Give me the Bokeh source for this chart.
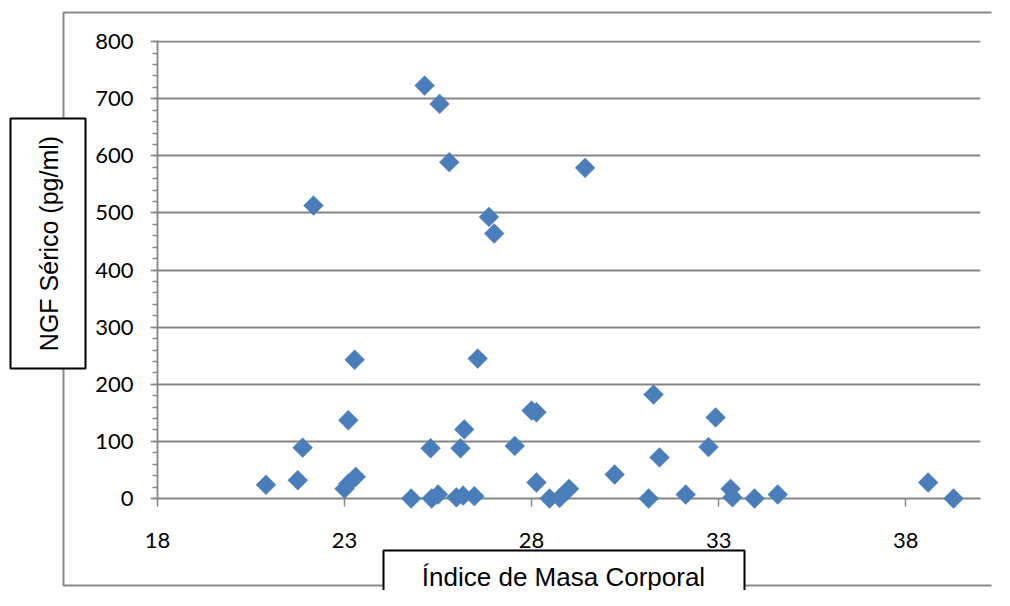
import math
from bokeh.plotting import figure
from bokeh.models import FixedTicker, Range1d, ColumnDataSource
from bokeh.core.properties import value
from bokeh.embed import file_html
from bokeh.resources import INLINE

# Data (Índice de Masa Corporal vs NGF sérico)
imc = [20.9, 21.75, 21.88, 22.17, 23.1, 23.0, 23.1, 23.3, 23.27, 24.78,
       25.3, 25.14, 25.54, 25.80, 25.33, 25.5, 25.99, 26.1, 26.17, 26.2,
       26.47, 26.56, 26.86, 27.0, 27.55, 28.0, 28.13, 28.13, 28.48, 28.75,
       29.0, 29.43, 30.22, 31.13, 31.26, 31.42, 32.12, 32.73, 32.92, 33.32,
       33.37, 33.96, 34.58, 38.6, 39.28]
ngf = [24, 32, 89, 513, 137, 17, 26, 38, 243, 0,
       88, 723, 691, 589, 0, 7, 2, 88, 5, 121,
       4, 245, 493, 464, 92, 154, 151, 28, 0, 1,
       17, 579, 42, 0, 182, 72, 7, 90, 142, 17,
       2, 0, 7, 28, 0]

x_ticks = [18, 23, 28, 33, 38]
y_ticks = list(range(0, 801, 100))
y_minor = list(range(0, 801, 20))
x_title = "Índice de Masa Corporal"
y_title = "NGF Sérico (pg/ml)"

GRAY = "#868686"
BLUE = "#4A7EBB"

W, H = 994, 590
FL, FR, FT, FB = 157, 980, 40, 498   # frame edges in canvas pixels
X0, X1, Y0, Y1 = 18, 40, 0, 802

p = figure(width=W, height=H, output_backend="svg", toolbar_location=None,
           x_range=Range1d(X0, X1), y_range=Range1d(Y0, Y1),
           min_border_left=FL, min_border_right=W - FR, min_border_top=FT,
           min_border_bottom=H - FB)
p.outline_line_color = None
p.background_fill_color = "white"
p.border_fill_color = "white"

p.xgrid.visible = False
p.ygrid.grid_line_color = GRAY
p.ygrid.grid_line_width = 1.8
p.ygrid.ticker = FixedTicker(ticks=y_ticks)

p.xaxis.ticker = FixedTicker(ticks=x_ticks)
p.yaxis.ticker = FixedTicker(ticks=y_ticks, minor_ticks=y_minor)

for ax in (p.xaxis[0], p.yaxis[0]):
    ax.axis_line_color = GRAY
    ax.axis_line_width = 1.8
    ax.major_tick_line_color = GRAY
    ax.major_tick_line_width = 1.5
    ax.minor_tick_line_color = GRAY
    ax.minor_tick_line_width = 1.5
    ax.major_tick_in = 0
    ax.minor_tick_in = 0
    ax.major_label_text_font = "Lato"
    ax.major_label_text_font_size = "22px"
    ax.major_label_text_color = "black"

p.xaxis.major_tick_out = 8
p.xaxis.minor_tick_out = 0
p.xaxis.minor_tick_line_color = None
p.xaxis.major_label_standoff = 26
p.yaxis.major_tick_out = 7
p.yaxis.minor_tick_out = 5
p.yaxis.major_label_standoff = 17

src = ColumnDataSource(dict(x=imc, y=ngf))
r = p.scatter("x", "y", source=src, marker="square", angle=math.pi / 4, size=14,
              fill_color=BLUE, line_color=BLUE, line_width=0.5)
r.level = "overlay"


# decorations outside the plot area: convert canvas pixels to the figure's scales
def dx(px):
    return X0 + (px - FL) / (FR - FL) * (X1 - X0)


def dy(py):
    return Y0 + (FB - py) / (FB - FT) * (Y1 - Y0)


def box(l, rt, t, b, **kw):
    g = p.quad(left=[dx(l)], right=[dx(rt)], top=[dy(t)], bottom=[dy(b)], **kw)
    g.level = "overlay"
    return g


# outer chart-area border (its right side lies beyond the picture)
frame = p.multi_line(xs=[[dx(W - 3), dx(63), dx(63), dx(W - 3)]],
                     ys=[[dy(12), dy(12), dy(585), dy(585)]],
                     line_color="#898989", line_width=2)
frame.level = "overlay"
# axis title boxes
box(10, 85, 118, 368, fill_color="white", line_color="black", line_width=2)
box(383, 744, 550, H + 4, fill_color="white", line_color="black", line_width=2)

t1 = p.text(x=[dx(48)], y=[dy(243)], text=[y_title], angle=math.pi / 2,
            text_align="center", text_baseline="middle",
            text_font=value("Liberation Sans"), text_font_size=value("25px"),
            text_color="black")
t1.level = "overlay"
t2 = p.text(x=[dx(563)], y=[dy(576)], text=[x_title],
            text_align="center", text_baseline="alphabetic",
            text_font=value("Liberation Sans"), text_font_size=value("26px"),
            text_color="black")
t2.level = "overlay"

open("out.html", "w").write(file_html(p, INLINE))
